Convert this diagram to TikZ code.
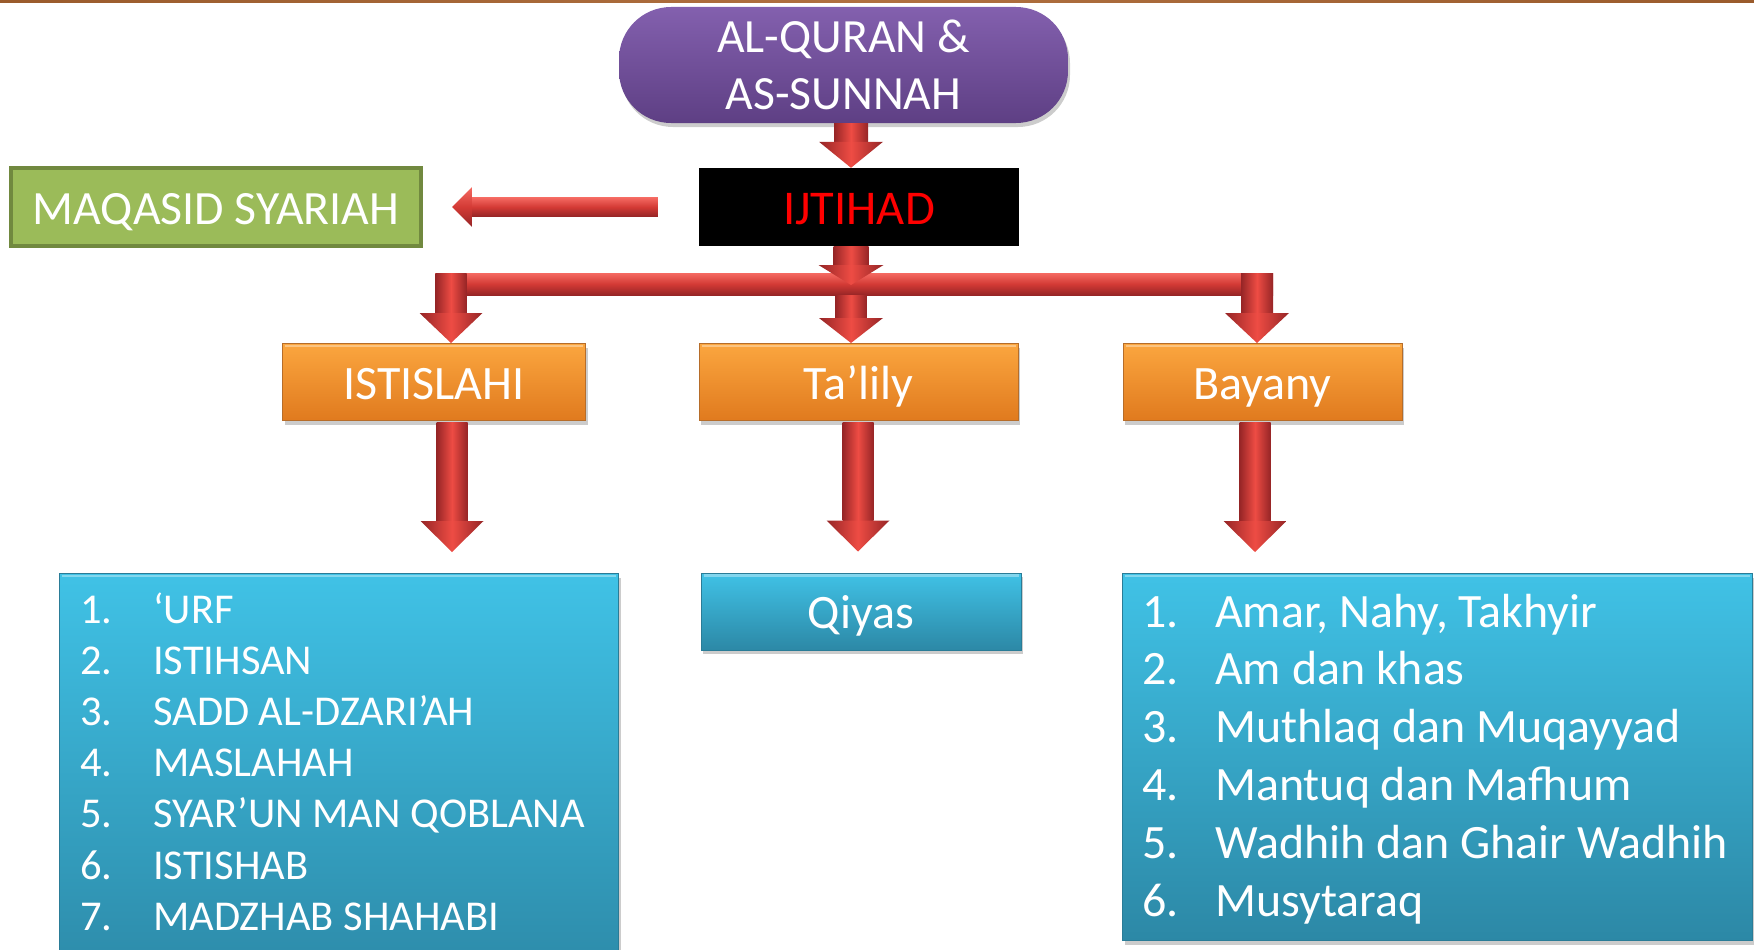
\documentclass[tikz,border=0pt]{standalone}
\usepackage{fontspec}
\setmainfont{Carlito}
\usetikzlibrary{calc,shadows}

\definecolor{rimbrown}{HTML}{9A5B2C}
\definecolor{rimbrownlight}{HTML}{B07040}
\definecolor{purpletop}{HTML}{8360AE}
\definecolor{purplebot}{HTML}{5E3F84}
\definecolor{greenfill}{HTML}{9BBB59}
\definecolor{greenline}{HTML}{71893F}
\definecolor{orangetop}{HTML}{FBA63F}
\definecolor{orangebot}{HTML}{E07A1E}
\definecolor{orangeline}{HTML}{B66D2A}
\definecolor{bluetop}{HTML}{40C2E6}
\definecolor{bluebot}{HTML}{2C88A6}
\definecolor{blueline}{HTML}{2A7C97}
\definecolor{redlight}{HTML}{EE4C44}
\definecolor{redmid}{HTML}{D33A35}
\definecolor{reddark}{HTML}{962526}
\definecolor{redpale}{HTML}{F56A62}

% vertical block arrow: start, tip, shaft half-width, head half-width, head length
\newcommand{\vblock}[5]{%
  \shade[varrow] let \p1=#1, \p2=#2 in
    (\x1-#3,\y1) rectangle (\x1+#3,\y2+#5);
  \shade[varrow] let \p1=#1, \p2=#2 in
    (\x1-#4,\y2+#5) -- (\x1+#4,\y2+#5) -- (\x1,\y2) -- cycle;
}
% horizontal block arrow pointing left: start, tip, shaft half-width, head half-width, head length
\newcommand{\hblockleft}[5]{%
  \shade[harrow] let \p1=#1, \p2=#2 in
    (\x1,\y1-#3) rectangle (\x2+#5,\y1+#3);
  \shade[harrow] let \p1=#1, \p2=#2 in
    (\x2+#5,\y1-#4) -- (\x2+#5,\y1+#4) -- (\x2,\y1) -- cycle;
}

\tikzset{
  varrow/.style={left color=reddark, right color=reddark, middle color=redlight},
  harrow/.style={top color=redpale, bottom color=reddark, middle color=redmid},
  boxshadow/.style={drop shadow={opacity=0.2, shadow xshift=2pt, shadow yshift=-4pt, fill=black}},
  captext/.style={text height=34pt, text depth=0pt},
  srcbox/.style={rounded corners=52pt, top color=purpletop, bottom color=purplebot,
    text=white, align=center, font=\fontsize{47.7}{57}\selectfont, boxshadow,
    minimum width=449pt, minimum height=116pt, inner sep=0pt},
  ijbox/.style={fill=black, text=red, font=\fontsize{48.5}{55}\selectfont, captext,
    minimum width=320pt, minimum height=78pt, inner sep=0pt},
  maqbox/.style={fill=greenfill, draw=greenline, line width=4pt, text=white, captext,
    font=\fontsize{47.8}{55}\selectfont, minimum width=410pt, minimum height=78pt, inner sep=0pt},
  catbox/.style={top color=orangetop, bottom color=orangebot, draw=orangeline, line width=1pt,
    text=white, font=\fontsize{48}{56}\selectfont, captext, minimum height=77pt, inner sep=0pt, boxshadow},
  listbox/.style={top color=bluetop, bottom color=bluebot, draw=blueline, line width=1pt,
    text=white, font=\fontsize{48}{56}\selectfont, inner sep=0pt, boxshadow},
  lefttext/.style={text=white, font=\fontsize{42.5}{50}\selectfont, anchor=base west, inner sep=0pt},
  righttext/.style={text=white, font=\fontsize{47.9}{56}\selectfont, anchor=base west, inner sep=0pt},
}

\begin{document}
\begin{tikzpicture}[x=1pt, y=-1pt]
\useasboundingbox (0,0) rectangle (1754,950);
\clip (0,0) rectangle (1754,950);

% brown rim along the top edge
\shade[left color=rimbrown, right color=rimbrown, middle color=rimbrownlight] (0,0) rectangle (1754,3);

% sources and ijtihad
\node[srcbox] (src) at (843.5,65) {AL-QURAN \&\\AS-SUNNAH};
\node[ijbox] (ij) at (859,207) {IJTIHAD};
\node[maqbox] (maq) at (216,207) {MAQASID SYARIAH};

% three approaches
\node[catbox, minimum width=303pt] (ist) at (434,382) {ISTISLAHI};
\node[catbox, minimum width=319pt] (tal) at (858.5,382) {Ta’lily};
\node[catbox, minimum width=279pt] (bay) at (1262.5,382) {Bayany};

% results
\node[listbox, minimum width=559pt, minimum height=420pt, anchor=north west] (urfbox) at (59,573) {};
\node[listbox, captext, minimum width=320pt, minimum height=77pt] (qiyas) at (861,611.5) {Qiyas};
\node[listbox, minimum width=630pt, minimum height=367pt, anchor=north west] (baybox) at (1122,573) {};

% bevel highlights on the boxes
\foreach \b in {ist,tal,bay,urfbox,qiyas,baybox}
  \draw[white, opacity=0.35, line width=2.5pt] ($(\b.north west)+(3,3)$) -- ($(\b.north east)+(-3,3)$);

\foreach \n/\t [count=\i from 0] in {1/‘URF, 2/ISTIHSAN, 3/SADD AL-DZARI’AH, 4/MASLAHAH,
    5/SYAR’UN MAN QOBLANA, 6/ISTISHAB, 7/MADZHAB SHAHABI} {
  \node[lefttext] (ln\i) at (80,623+51.2*\i) {\n.};
  \node[lefttext] (lt\i) at (153,623+51.2*\i) {\t};
}
\foreach \n/\t [count=\i from 0] in {1/{Amar, Nahy, Takhyir}, 2/Am dan khas, 3/Muthlaq dan Muqayyad,
    4/Mantuq dan Mafhum, 5/Wadhih dan Ghair Wadhih, 6/Musytaraq} {
  \node[righttext] (rn\i) at (1142,627+57.8*\i) {\n.};
  \node[righttext] (rt\i) at (1215,627+57.8*\i) {\t};
}

% guide lines for the arrows
\coordinate (xa) at (851,0);
\coordinate (xb) at (858,0);
\coordinate (xl) at (451,0);
\coordinate (xr) at (1257,0);
\coordinate (xlb) at (452,0);
\coordinate (xrb) at (1255,0);
\coordinate (busNW) at (435,273);
\coordinate (busSE) at (1273,295);

% arrows
\vblock{(src.south -| xa)}{(ij.north -| xa)}{17pt}{32pt}{26pt}
\hblockleft{($(ij.west)+(-41,0)$)}{($(maq.east)+(29,0)$)}{9.5pt}{20pt}{20pt}

\shade[harrow] (busNW) rectangle (busSE);
\vblock{(xl |- busNW)}{(ist.north -| xl)}{15.5pt}{31.5pt}{30pt}
\vblock{(xa |- busSE)}{(tal.north -| xa)}{15.5pt}{32pt}{25pt}
\vblock{(xr |- busNW)}{(bay.north -| xr)}{16pt}{32pt}{30pt}
\vblock{(ij.south -| xa)}{($(xa |- busNW)+(0,12)$)}{17.5pt}{32.5pt}{20pt}

\vblock{($(ist.south -| xlb)+(0,1)$)}{($(urfbox.north -| xlb)+(0,-21)$)}{15.5pt}{31.5pt}{31pt}
\vblock{($(tal.south -| xb)+(0,1)$)}{($(qiyas.north -| xb)+(0,-21)$)}{15.5pt}{31.5pt}{31pt}
\vblock{($(bay.south -| xrb)+(0,1)$)}{($(baybox.north -| xrb)+(0,-21)$)}{15.5pt}{31.5pt}{31pt}
\end{tikzpicture}
\end{document}
